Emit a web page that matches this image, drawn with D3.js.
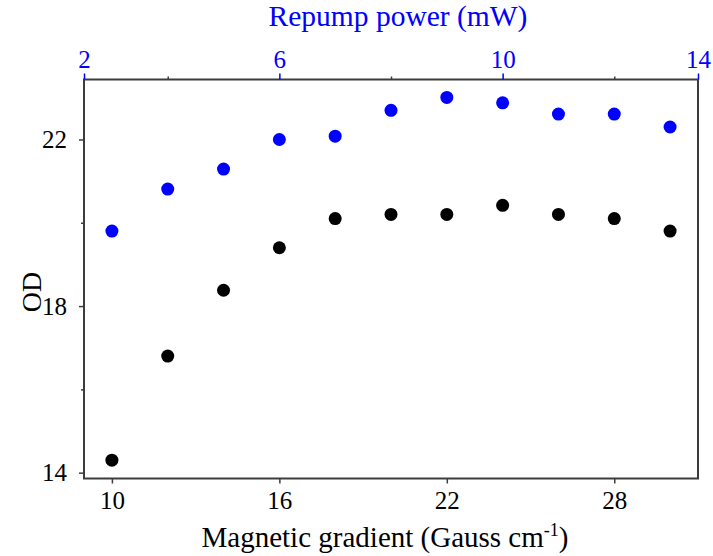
<!DOCTYPE html>
<html>
<head>
<meta charset="utf-8">
<script src="https://cdn.jsdelivr.net/npm/d3@7"></script>
<style>
  html, body { margin: 0; padding: 0; background: #fff; }
</style>
</head>
<body>
<svg id="chart" width="713" height="556"></svg>
<script>
// ---- data ----
const gradient = [10, 12, 14, 16, 18, 20, 22, 24, 26, 28, 30];
const odVsGradient = [14.30, 16.80, 18.38, 19.40, 20.10, 20.20, 20.20, 20.42, 20.20, 20.10, 19.80];
const repump = [3, 4, 5, 6, 7, 8, 9, 10, 11, 12, 13];
const odVsRepump = [19.80, 20.81, 21.29, 22.00, 22.08, 22.70, 23.01, 22.88, 22.61, 22.61, 22.30];
const bottomTicks = [10, 16, 22, 28];
const topTicks = [2, 4, 6, 8, 10, 12, 14];
const topLabeled = [2, 6, 10, 14];
const yTicks = [14, 16, 18, 20, 22];
const yLabeled = [14, 18, 22];

// ---- layout ----
const FONT = "Liberation Serif";
const L = 84, R = 698, T = 79.5, B = 478.5;
const svg = d3.select("#chart");
const frameColor = "#3c3c3c";
const fs = 25;

const x = d3.scaleLinear().domain([9, 31]).range([L, R]);
const xTop = d3.scaleLinear().domain([2.5, 13.5]).range([L, R]).clamp(true);
const y = d3.scaleLinear().domain([13.86, 23.44]).range([B, T]);

// frame
svg.append("rect")
  .attr("x", L).attr("y", T).attr("width", R - L).attr("height", B - T)
  .attr("fill", "none").attr("stroke", frameColor).attr("stroke-width", 2);

// bottom axis
const gB = svg.append("g").attr("transform", `translate(0,${B})`)
  .call(d3.axisBottom(x).tickValues(bottomTicks).tickSize(5).tickPadding(8));
gB.attr("font-family", FONT).attr("font-size", fs);
gB.select(".domain").remove();
gB.selectAll("line").attr("stroke", frameColor).attr("stroke-width", 1.5);
gB.selectAll("text").attr("fill", "#000");

// left axis
const gL = svg.append("g").attr("transform", `translate(${L},0)`)
  .call(d3.axisLeft(y).tickValues(yTicks).tickSize(5).tickPadding(12)
    .tickFormat(d => yLabeled.includes(d) ? d : ""));
gL.attr("font-family", FONT).attr("font-size", fs);
gL.select(".domain").remove();
gL.selectAll("line").attr("stroke", frameColor).attr("stroke-width", 1.5)
  .attr("x2", d => yLabeled.includes(d) ? -5 : -3);
gL.selectAll("text").attr("fill", "#000");

// top axis
const gT = svg.append("g").attr("transform", `translate(0,${T})`)
  .call(d3.axisTop(xTop).tickValues(topTicks).tickSize(6).tickPadding(6)
    .tickFormat(d => topLabeled.includes(d) ? d : ""));
gT.attr("font-family", FONT).attr("font-size", fs);
gT.select(".domain").remove();
gT.selectAll("line")
  .attr("stroke", d => topLabeled.includes(d) ? "#0000ff" : frameColor)
  .attr("stroke-width", 1.5)
  .attr("y2", d => topLabeled.includes(d) ? -6 : -3);
gT.selectAll("text").attr("fill", "#0000ff");

// points
svg.append("g").selectAll("circle")
  .data(repump.map((r, i) => ({ r, v: odVsRepump[i] })))
  .join("circle")
  .attr("cx", d => xTop(d.r)).attr("cy", d => y(d.v)).attr("r", 6.5)
  .attr("fill", "#0000ff");

svg.append("g").selectAll("circle")
  .data(gradient.map((g, i) => ({ g, v: odVsGradient[i] })))
  .join("circle")
  .attr("cx", d => x(d.g)).attr("cy", d => y(d.v)).attr("r", 6.5)
  .attr("fill", "#000");

// titles
const bt = svg.append("text")
  .attr("x", (L + R) / 2 - 6).attr("y", 547)
  .attr("text-anchor", "middle").attr("font-size", 29).attr("fill", "#000")
  .attr("font-family", FONT);
bt.append("tspan").text("Magnetic gradient (Gauss cm");
bt.append("tspan").attr("dy", -11).attr("font-size", 18).text("-1");
bt.append("tspan").attr("dy", 11).text(")");

svg.append("text")
  .attr("x", (L + R) / 2 + 7).attr("y", 26)
  .attr("text-anchor", "middle").attr("font-size", 29.5).attr("fill", "#0000ff")
  .attr("font-family", FONT)
  .text("Repump power (mW)");

svg.append("text")
  .attr("transform", `translate(41,292) rotate(-90)`)
  .attr("text-anchor", "middle").attr("font-size", 28).attr("fill", "#000")
  .attr("font-family", FONT)
  .text("OD");
</script>
</body>
</html>
